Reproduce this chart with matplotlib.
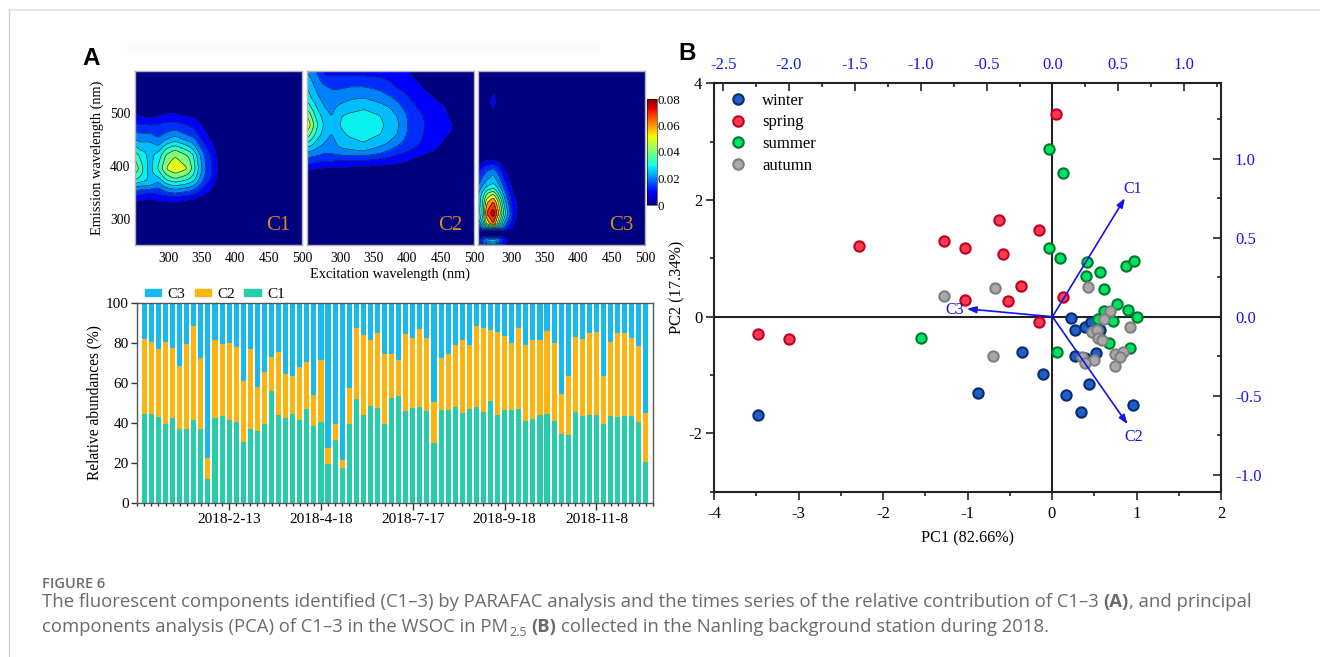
import numpy as np
import matplotlib
matplotlib.use("Agg")
import matplotlib.pyplot as plt
from matplotlib.cm import ScalarMappable
from matplotlib.colors import Normalize
from matplotlib.lines import Line2D
from matplotlib.patches import Patch, Rectangle
from matplotlib.ticker import MultipleLocator

W, H = 1320, 657
SERIF = "Liberation Serif"
plt.rcParams["font.family"] = SERIF
plt.rcParams["axes.unicode_minus"] = False

# ---- EEM surfaces (values x 1e-3); one list per excitation column ----
c1_ex = [250, 258, 272, 285, 297, 310, 328, 335, 340, 345, 350, 356, 365, 373, 385]
c1_em = [320, 331, 342, 348, 356, 362, 369, 376, 385, 395, 420, 430, 439, 447, 456, 468, 484, 498, 515]
c1_cols = [
    [0, 6, 12, 17, 23, 29, 36, 42, 47, 52, 45, 38, 33, 28, 23, 18, 12, 7, 0],
    [0, 5, 11, 15, 21, 27, 33, 38, 42, 44, 38, 33, 29, 26, 22, 18, 11, 5, 0],
    [0, 3, 9, 13, 20, 26, 31, 32, 31, 30, 31, 32, 30, 26, 22, 18, 10, 3, 0],
    [0, 6, 11, 14, 18, 22, 26, 31, 36, 41, 36, 31, 26, 22, 19, 16, 12, 5, 0],
    [0, 6, 12, 18, 24, 30, 36, 42, 48, 54, 48, 42, 35, 29, 23, 18, 13, 7, 0],
    [0, 7, 13, 20, 27, 33, 40, 47, 53, 59, 53, 47, 40, 33, 27, 20, 13, 7, 0],
    [0, 4, 11, 17, 24, 30, 36, 42, 48, 54, 47, 40, 33, 27, 21, 16, 11, 5, 0],
    [0, 3, 10, 16, 22, 28, 33, 38, 43, 47, 43, 36, 30, 25, 20, 15, 10, 4, 0],
    [0, 3, 9, 14, 20, 25, 30, 34, 38, 40, 37, 31, 26, 22, 18, 13, 9, 3, 0],
    [0, 2, 7, 11, 16, 20, 25, 28, 31, 33, 30, 25, 21, 18, 14, 10, 7, 2, 0],
    [0, 1, 6, 9, 13, 16, 20, 23, 25, 27, 24, 20, 17, 14, 11, 8, 5, 0, 0],
    [0, 0, 4, 7, 10, 12, 15, 17, 19, 20, 18, 15, 13, 10, 8, 6, 3, 0, 0],
    [0, 0, 2, 4, 6, 8, 10, 12, 13, 13, 12, 10, 8, 6, 5, 3, 1, 0, 0],
    [0, 0, 0, 1, 2, 3, 4, 5, 6, 7, 6, 4, 3, 2, 1, 0, 0, 0, 0],
    [0, 0, 0, 0, 0, 0, 0, 0, 0, 0, 0, 0, 0, 0, 0, 0, 0, 0, 0],
]
c2_ex = [250, 257, 264, 276, 287, 300, 315, 335, 360, 375, 387, 400, 425, 445, 457, 468, 480]
c2_em = [385, 392, 400, 410, 419, 429, 442, 460, 478, 495, 509, 528, 550, 572, 580]
c2_cols = [
    [0, 7, 12, 17, 22, 29, 39, 52, 60, 54, 46, 38, 33, 28, 26],
    [0, 6, 11, 16, 21, 27, 35, 45, 51, 46, 40, 33, 29, 25, 23],
    [0, 5, 10, 15, 20, 25, 31, 38, 42, 38, 34, 29, 25, 22, 20],
    [0, 4, 9, 14, 18, 22, 26, 30, 32, 30, 27, 24, 21, 13, 11],
    [0, 3, 8, 14, 18, 22, 24, 26, 27, 26, 25, 23, 19, 13, 11],
    [0, 3, 8, 13, 19, 25, 29, 32, 34, 33, 29, 24, 19, 13, 10],
    [0, 3, 8, 13, 20, 26, 31, 34.5, 35.5, 35, 31, 26, 20, 13, 10],
    [0, 3, 7, 13, 20, 27, 33, 36, 37, 36, 33, 27, 20, 13, 10],
    [0, 2, 6, 11, 17, 23, 29, 33.5, 34.5, 33.5, 30, 24, 18, 12, 9],
    [0, 2, 5, 10, 14, 19, 25, 30, 31, 29, 27, 21, 15, 11, 8.5],
    [0, 1, 5, 9, 12, 16, 21, 26, 27, 26, 23, 18, 12, 9, 8],
    [0, 0, 3, 7, 10, 14, 17, 19.5, 20, 19.5, 17, 14, 11, 8, 7],
    [0, 0, 0, 2, 6, 9, 12, 13, 13.5, 13, 11, 9, 6, 3, 2],
    [0, 0, 0, 0, 2, 6, 8, 9.5, 10, 9.5, 9, 6, 3, 0, 0],
    [0, 0, 0, 0, 0, 1, 5, 7.5, 8, 7.5, 7, 4, 1, 0, 0],
    [0, 0, 0, 0, 0, 0, 1, 6, 7, 5.5, 3, 0, 0, 0, 0],
    [0, 0, 0, 0, 0, 0, 0, 0, 0, 0, 0, 0, 0, 0, 0],
]
c3_ex = [250, 257, 263, 273, 278, 285, 289, 293, 301, 308, 318]
c3_em = [250, 253, 258, 263, 266, 272, 278, 283, 291, 300, 310, 320, 332, 342, 348, 357, 370, 384,
         395, 411, 420, 500, 509, 522, 536, 545]
c3_rows = [
    [15, 25, 35, 42, 35, 20, 12, 5, 0, 0, 0],
    [8, 13, 18, 20, 18, 12, 8, 4, 0, 0, 0],
    [11, 18, 30, 34, 30, 16, 11, 8, 1, 0, 0],
    [9, 14, 18, 20, 18, 12, 8, 6, 1, 0, 0],
    [4, 7, 7, 8, 7, 6, 3, 2, 0, 0, 0],
    [0, 0, 0, 0, 0, 0, 0, 0, 0, 0, 0],
    [5, 7, 8, 8, 8, 7, 7, 5, 2, 0, 0],
    [12, 22, 32, 40, 32, 24, 20, 14, 7, 2, 0],
    [18, 34, 55, 67, 56, 36, 26, 20, 9, 4, 0],
    [25, 40, 60, 72, 60, 44, 33, 26, 12, 5, 0],
    [28, 42, 67, 78, 68, 50, 38, 30, 14, 7, 0],
    [28, 42, 63, 73, 63, 47, 36, 27, 13, 7, 0],
    [27, 40, 58, 67, 58, 42, 31, 24, 11, 6, 0],
    [26, 38, 50, 58, 50, 36, 27, 20, 9, 4, 0],
    [25, 35, 46, 52, 44, 32, 24, 18, 8, 3, 0],
    [22, 30, 36, 41, 36, 26, 20, 15, 6, 2, 0],
    [17, 23, 28, 31, 28, 20, 15, 11, 4, 0, 0],
    [13, 18, 22, 27, 22, 15, 10, 7, 1, 0, 0],
    [9, 13, 17, 20, 16, 10, 6, 3, 0, 0, 0],
    [1, 4, 6, 7, 5, 2, 0, 0, 0, 0, 0],
    [0, 0, 0, 0, 0, 0, 0, 0, 0, 0, 0],
    [0, 0, 0, 0, 0, 0, 0, 0, 0, 0, 0],
    [0, 0, 0, 7, 3, 0, 0, 0, 0, 0, 0],
    [0, 0, 1, 11, 5, 0, 0, 0, 0, 0, 0],
    [0, 0, 0, 7, 3, 0, 0, 0, 0, 0, 0],
    [0, 0, 0, 0, 0, 0, 0, 0, 0, 0, 0],
]
panel_names = ["C1", "C2", "C3"]
ex_ticks = [300, 350, 400, 450, 500]
em_ticks = [300, 400, 500]
cbar_ticks = [0, 0.02, 0.04, 0.06, 0.08]
cbar_labels = ["0", "0.02", "0.04", "0.06", "0.08"]

# ---- stacked bars (%) ----
c1_share = [44.3, 44.3, 43, 39.7, 42.3, 36.8, 37, 41.7, 36.8, 12, 42.4, 43.4, 41.5, 40.5, 30.3, 37.2,
            36, 39.3, 56.2, 43.8, 42.3, 44.5, 41.5, 47, 38.5, 40.3, 19.5, 31.5, 17.5, 39.7, 51.8, 44.2,
            48.4, 47.4, 39.6, 52.4, 53.3, 46.1, 47.4, 47.9, 46, 30, 46.3, 46.3, 48.1, 45.2, 47.2, 48.2,
            45.3, 51.2, 43.8, 46.5, 46.5, 46.8, 41.2, 41.8, 44.2, 44.5, 41, 34.7, 34.2, 45.3, 43.7, 44.2,
            43.8, 39.5, 43.7, 42.8, 43.7, 43.7, 40.7, 20.5]
c1c2_top = [82, 80.5, 77, 80.5, 77.5, 68.5, 79.3, 88.5, 72.5, 22.7, 81.5, 79.5, 80, 77.8, 61, 76.8,
            58.2, 65.5, 73, 75.3, 64.5, 63.5, 67.8, 70.5, 54, 71.5, 27.5, 39.3, 21.7, 57.5, 87.5, 84,
            81.5, 85, 74.6, 74.3, 71.6, 84.4, 82.4, 87, 82.6, 50.4, 72.5, 74.5, 79.2, 81.7, 79.2, 88.5,
            87.5, 86.5, 85.7, 83.7, 79.8, 87.3, 79.2, 81.3, 81.5, 86.2, 79.8, 54.3, 63.7, 83, 82.2, 85,
            85.7, 63.7, 80.7, 85, 84.8, 82.5, 78.5, 45.2]
date_positions = [12, 25, 38, 51, 64]
date_labels = ["2018-2-13", "2018-4-18", "2018-7-17", "2018-9-18", "2018-11-8"]

# ---- PCA scores ----
winter_x = [0.22, 0.27, 0.39, 0.46, 0.57, -0.36, -0.11, -0.88, 0.27, 0.52, 0.39, 0.44, 0.17, 0.34, 0.96, -3.48]
winter_y = [-0.02, -0.22, -0.18, -0.09, -0.23, -0.60, -0.99, -1.31, -0.67, -0.63, -0.71, -1.15, -1.35, -1.64, -1.51, -1.69]
spring_x = [-0.15, -1.03, -0.58, -0.37, -1.03, -0.52, 0.13, -0.15, 0.05, -0.63, -2.28, -1.28, -3.48, -3.11]
spring_y = [1.49, 1.18, 1.08, 0.53, 0.29, 0.27, 0.34, -0.09, 3.48, 1.66, 1.21, 1.29, -0.30, -0.38]
summer_x = [-0.03, 0.09, 0.41, 0.40, 0.57, 0.61, 0.88, 0.97, 0.77, 0.90, 1.01, 0.61, 0.55, 0.72, 0.68, 0.92, 0.06, -0.04, 0.13, -1.55]
summer_y = [1.17, 1.00, 0.94, 0.70, 0.77, 0.47, 0.87, 0.95, 0.21, 0.11, 0.0, 0.09, -0.04, -0.07, -0.45, -0.54, -0.61, 2.87, 2.46, -0.37]
autumn_x = [-0.67, -0.70, 0.43, 0.69, 0.62, 0.92, 0.47, 0.53, 0.55, 0.59, 0.74, 0.84, 0.80, 0.74, 0.50, 0.36, 0.39, -1.28]
autumn_y = [0.49, -0.67, 0.51, 0.10, -0.04, -0.18, -0.26, -0.23, -0.36, -0.40, -0.64, -0.61, -0.69, -0.85, -0.74, -0.69, -0.79, 0.35]
loading_names = ["C1", "C2", "C3"]
loading_x = [0.55, 0.57, -0.65]
loading_y = [0.75, -0.68, 0.05]

caption_head = "FIGURE 6"
caption_l1 = ["The fluorescent components identified (C1\u20133) by PARAFAC analysis and the times series of the relative contribution of C1\u20133",
              "(A)", ", and principal"]
caption_l2 = ["components analysis (PCA) of C1\u20133 in the WSOC in PM", "2.5", "(B)",
              "collected in the Nanling background station during 2018."]

# ------------------------------------------------------------------
fig = plt.figure(figsize=(W / 100, H / 100), dpi=100)


def axpx(x0, y0, x1, y1, **kw):
    return fig.add_axes([x0 / W, 1 - y1 / H, (x1 - x0) / W, (y1 - y0) / H], **kw)


def tpx(x, y, s, **kw):
    return fig.text(x / W, 1 - y / H, s, **kw)


# card frame
fig.add_artist(Line2D([9.3 / W, 9.3 / W], [0, 1 - 9.5 / H], color="#cfcfcf", lw=0.9))
fig.add_artist(Line2D([9.3 / W, 1], [1 - 9.5 / H, 1 - 9.5 / H], color="#dedede", lw=1.1))
fig.add_artist(Rectangle((127 / W, 1 - 53 / H), 473 / W, 10 / H, transform=fig.transFigure,
                         color="#fbfbfb", lw=0))

jet = plt.get_cmap("jet")
levels = np.linspace(0, 0.08, 13)
band_pos = [0.0, 0.11, 0.17, 0.25, 0.31, 0.36, 0.42, 0.50, 0.62, 0.75, 0.86, 0.93]
fills = [jet(p) for p in band_pos]
ex_fine = np.arange(250, 501, 1.0)
em_fine = np.arange(250, 581, 1.0)


def tri(n):
    return list(range(1, n + 1)) + list(range(n - 1, 0, -1))


def surface(ex, em, z, kx, ky):
    z = np.asarray(z, float) / 1000
    a = np.array([np.interp(ex_fine, ex, r, left=r[0], right=0) for r in z])
    b = np.array([np.interp(em_fine, em, c, left=c[0], right=0) for c in a.T]).T
    for kern, axis in ((kx, 1), (ky, 0)):
        k = np.array(kern, float)
        k /= k.sum()
        n = len(k) // 2
        p = np.pad(b, n, mode="edge")
        p = np.apply_along_axis(lambda v: np.convolve(v, k, mode="same"), axis, p)
        b = p[n:-n, n:-n]
    return b


panels = [(135, 302, c1_ex, c1_em, np.array(c1_cols).T, tri(6), tri(5)),
          (307, 474, c2_ex, c2_em, np.array(c2_cols).T, tri(6), tri(6)),
          (478, 645, c3_ex, c3_em, np.array(c3_rows), tri(3), tri(2))]
for i, (x0, x1, ex, em, z, kx, ky) in enumerate(panels):
    ax = axpx(x0, 71, x1, 245)
    Z = surface(ex, em, z, kx, ky)
    ax.set_facecolor(jet(0.0))
    ax.contourf(ex_fine, em_fine, Z, levels=levels, colors=fills)
    ax.contour(ex_fine, em_fine, Z, levels=levels[1:], colors="#10203a", linewidths=0.45)
    ax.set_xlim(250, 500)
    ax.set_ylim(250, 580)
    ax.set_xticks(ex_ticks)
    ax.tick_params(axis="x", length=0, labelsize=9.8, pad=5)
    ax.tick_params(axis="y", length=0, labelsize=9.8, pad=3.5)
    if i == 0:
        ax.set_yticks(em_ticks)
        ax.set_ylabel("Emission wavelength (nm)", fontsize=10.4, labelpad=4)
    else:
        ax.set_yticks([])
    if i == 1:
        ax.set_xlabel("Excitation wavelength (nm)", fontsize=10.4, labelpad=2)
    for s in ax.spines.values():
        s.set_color("#b5b5b5")
        s.set_linewidth(1)
    ax.text(0.93, 0.055, panel_names[i], transform=ax.transAxes, ha="right", va="bottom",
            fontsize=15, color="#d98a1e")

cax = axpx(647, 99, 657, 205)
cb = fig.colorbar(ScalarMappable(Normalize(0, 0.08), jet), cax=cax)
cb.set_ticks(cbar_ticks, labels=cbar_labels)
cb.ax.tick_params(length=0, labelsize=9.3, pad=0)
cb.outline.set_linewidth(0.4)

# stacked bars
bx = axpx(137.3, 303, 653, 503)
pos = np.arange(len(c1_share))
c1v = np.array(c1_share)
c2v = np.array(c1c2_top) - c1v
c3v = 100 - np.array(c1c2_top)
bx.bar(pos, c1v, width=0.72, color="#28cbaa", label="C1")
bx.bar(pos, c2v, width=0.72, bottom=c1v, color="#fdb40e", label="C2")
bx.bar(pos, c3v, width=0.72, bottom=c1v + c2v, color="#18baec", label="C3")
bx.set_xlim(-1, 72)
bx.set_ylim(0, 100)
bx.set_xticks(date_positions, labels=date_labels)
bx.set_xticks(np.arange(-1, 73), minor=True)
bx.tick_params(axis="x", which="major", length=5, width=1, labelsize=11, pad=2, color="#333333")
bx.tick_params(axis="x", which="minor", length=2.5, width=1, color="#333333")
bx.tick_params(axis="y", length=4, width=1, labelsize=11, pad=2, color="#333333")
bx.set_yticks([0, 20, 40, 60, 80, 100])
bx.set_ylabel("Relative abundances (%)", fontsize=11.2, labelpad=3)
for s in bx.spines.values():
    s.set_color("#555555")
    s.set_linewidth(1)
bx.legend(handles=[Patch(color="#18baec", label="C3"), Patch(color="#fdb40e", label="C2"),
                   Patch(color="#28cbaa", label="C1")],
          ncol=3, frameon=False, fontsize=11, handlelength=1.05, handleheight=0.4,
          handletextpad=0.45, columnspacing=0.6, loc="lower left", borderpad=0, borderaxespad=0,
          bbox_to_anchor=(7.5 / 515.7, 1.01))

# PCA
pa = axpx(714, 83.3, 1221, 491.7)
styles = [("winter", winter_x, winter_y, "#1f5ec6", "#0a2c70"),
          ("spring", spring_x, spring_y, "#ff3b52", "#c00020"),
          ("summer", summer_x, summer_y, "#00e262", "#00782e"),
          ("autumn", autumn_x, autumn_y, "#a9a9a9", "#7f7f7f")]
handles = []
for name, xs, ys, fc, ec in styles:
    pa.scatter(xs, ys, s=55, facecolor=fc, edgecolor=ec, linewidth=1.5, zorder=3)
    handles.append(Line2D([], [], ls="none", marker="o", ms=7.5, mfc=fc, mec=ec, mew=1.5, label=name))
pa.set_xlim(-4, 2)
pa.set_ylim(-3, 4)
pa.axhline(0, color="#222222", lw=1.5, zorder=2)
pa.axvline(0, color="#222222", lw=1.5, zorder=2)
pa.set_xticks([-4, -3, -2, -1, 0, 1, 2])
pa.set_yticks([-2, 0, 2, 4])
pa.xaxis.set_minor_locator(MultipleLocator(0.5))
pa.yaxis.set_minor_locator(MultipleLocator(1))
pa.tick_params(which="major", length=5.5, width=1.2, labelsize=12, pad=3, color="#222222")
pa.tick_params(axis="x", which="major", pad=5)
pa.tick_params(which="minor", length=3, width=1.2, color="#222222")
pa.set_xlabel("PC1 (82.66%)", fontsize=11.7, labelpad=6)
pa.set_ylabel("PC2 (17.34%)", fontsize=11.7, labelpad=2)
for s in pa.spines.values():
    s.set_color("#222222")
    s.set_linewidth(1.5)
pa.spines["top"].set_visible(False)
pa.spines["right"].set_visible(False)
pa.legend(handles=handles, frameon=False, fontsize=12, loc="upper left", bbox_to_anchor=(0.018, 0.977),
          borderpad=0, borderaxespad=0, labelspacing=0.34, handletextpad=0.61, handlelength=1.75)

pb = axpx(714, 83.3, 1221, 491.7)
pb.patch.set_visible(False)
pb.set_xlim(-2.57, 1.28)
pb.set_ylim(-1.107, 1.477)
pb.xaxis.tick_top()
pb.yaxis.tick_right()
pb.spines["left"].set_visible(False)
pb.spines["bottom"].set_visible(False)
pb.spines["top"].set_linewidth(1.5)
pb.spines["right"].set_linewidth(1.5)
pb.spines["top"].set_color("#222222")
pb.spines["right"].set_color("#222222")
pb.set_xticks(np.arange(-2.5, 1.01, 0.5), labels=["-2.5", "-2.0", "-1.5", "-1.0", "-0.5", "0.0", "0.5", "1.0"])
pb.set_yticks([-1.0, -0.5, 0.0, 0.5, 1.0], labels=["-1.0", "-0.5", "0.0", "0.5", "1.0"])
pb.xaxis.set_minor_locator(MultipleLocator(0.25))
pb.yaxis.set_minor_locator(MultipleLocator(0.25))
pb.tick_params(which="major", direction="in", length=5.5, width=1.2, color="#222222",
               labelcolor="#1515f0", labelsize=12)
pb.tick_params(which="minor", direction="in", length=3, width=1.2, color="#222222")
pb.tick_params(axis="x", which="major", pad=7.5)
pb.tick_params(axis="y", which="major", pad=10)
label_pos = [(-0.015, 0.06), (-0.02, -0.08), (-0.09, -0.005)]
for name, lx, ly, (dx, dy) in zip(loading_names, loading_x, loading_y, label_pos):
    pb.annotate("", xy=(lx, ly), xytext=(0, 0),
                arrowprops=dict(arrowstyle="-|>,head_length=0.55,head_width=0.2", color="#1212f0", lw=1.2,
                                shrinkA=0, shrinkB=0))
    pb.text(lx + dx, ly + dy, name, color="#1212f0", fontsize=11.5, va="center", ha="left" if lx > 0 else "center")

# letters
tpx(82, 65, "A", fontsize=17.5, fontweight="bold", family="Liberation Sans", color="black")
tpx(678, 60, "B", fontsize=17.5, fontweight="bold", family="Liberation Sans", color="black")

# caption
renderer = fig.canvas.get_renderer()
CAP = "Open Sans"


def run(x, y, s, **kw):
    t = tpx(x, y, s, family=CAP, color="#6a6a6a", va="baseline", **kw)
    return x + t.get_window_extent(renderer).width


tpx(42, 588, caption_head, family=CAP, fontsize=10.5, fontweight="semibold", color="#6e6e6e", va="baseline")
fs = 13.3
x = run(42, 607, caption_l1[0], fontsize=fs)
x = run(x + 5, 607, caption_l1[1], fontsize=fs, fontweight="bold")
x = run(x, 607, caption_l1[2], fontsize=fs)
x = run(42, 632, caption_l2[0], fontsize=fs)
x = run(x + 1, 636, caption_l2[1], fontsize=9)
x = run(x + 5, 632, caption_l2[2], fontsize=fs, fontweight="bold")
x = run(x + 5, 632, caption_l2[3], fontsize=fs)

fig.savefig("out.png", dpi=100)
